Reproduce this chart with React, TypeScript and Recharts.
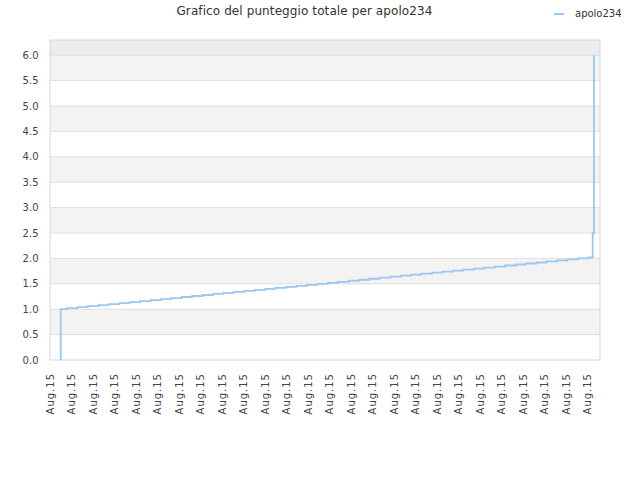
import React from 'react';
import { LineChart, Line, XAxis, YAxis, ReferenceArea, ReferenceLine } from 'recharts';

// ------------------------------------------------------------
// Punteggio totale per apolo234 — step line over time
// ------------------------------------------------------------
const title = 'Grafico del punteggio totale per apolo234';
const seriesName = 'apolo234';

// x position in tick units (one unit = one "Aug.15" tick)
const times = [
    0.5, 0.5, 0.79, 1.28, 1.76, 2.25, 2.73, 3.22, 3.7, 4.19, 4.67, 5.16, 5.64, 6.13, 6.61, 7.1, 7.58, 8.07, 8.55,
    9.04, 9.52, 10.01, 10.49, 10.98, 11.46, 11.95, 12.43, 12.92, 13.4, 13.89, 14.37, 14.86, 15.34, 15.83, 16.31,
    16.8, 17.28, 17.77, 18.25, 18.74, 19.22, 19.71, 20.19, 20.68, 21.16, 21.65, 22.13, 22.62, 23.1, 23.59, 24.07,
    24.56, 25.04, 25.24, 25.3,
];

const scores = [
    0, 1.0, 1.02, 1.04, 1.06, 1.08, 1.1, 1.12, 1.14, 1.16, 1.18, 1.2, 1.22, 1.24, 1.26, 1.28, 1.3, 1.32, 1.34, 1.36,
    1.38, 1.4, 1.42, 1.44, 1.46, 1.48, 1.5, 1.52, 1.54, 1.56, 1.58, 1.6, 1.62, 1.64, 1.66, 1.68, 1.7, 1.72, 1.74,
    1.76, 1.78, 1.8, 1.82, 1.84, 1.86, 1.88, 1.9, 1.92, 1.94, 1.96, 1.98, 2.0, 2.02, 2.5, 6.0,
];

const xTicks = [0, 1, 2, 3, 4, 5, 6, 7, 8, 9, 10, 11, 12, 13, 14, 15, 16, 17, 18, 19, 20, 21, 22, 23, 24, 25];
const xTickLabels = [
    'Aug.15', 'Aug.15', 'Aug.15', 'Aug.15', 'Aug.15', 'Aug.15', 'Aug.15', 'Aug.15', 'Aug.15', 'Aug.15',
    'Aug.15', 'Aug.15', 'Aug.15', 'Aug.15', 'Aug.15', 'Aug.15', 'Aug.15', 'Aug.15', 'Aug.15', 'Aug.15',
    'Aug.15', 'Aug.15', 'Aug.15', 'Aug.15', 'Aug.15', 'Aug.15',
];
const yTicks = [0, 0.5, 1, 1.5, 2, 2.5, 3, 3.5, 4, 4.5, 5, 5.5, 6];

const data = times.map((t, i) => ({ t, score: scores[i] }));

const FONT = '"DejaVu Sans", Verdana, sans-serif';
const TEXT = '#444';
const LINE = '#99c8f4';

function XTick(props: any) {
    const { x, y, index } = props;
    const ty = y + 5;
    return (
        <text
            x={x}
            y={ty}
            transform={`rotate(-90 ${x} ${ty})`}
            textAnchor="end"
            dy="0.36em"
            fontSize={10}
            letterSpacing={1}
            fill={TEXT}
            fontFamily={FONT}
        >
            {xTickLabels[index]}
        </text>
    );
}

function YTick(props: any) {
    const { y, payload } = props;
    return (
        <text x={38.5} y={y} dy="0.36em" textAnchor="end" fontSize={10} fill={TEXT} fontFamily={FONT}>
            {Number(payload.value).toFixed(1)}
        </text>
    );
}

export default function App() {
    const bands = yTicks.slice(0, -1).map((v, i) => ({ y1: v, y2: yTicks[i + 1], odd: i % 2 === 1 }));
    return (
        <div style={{ position: 'absolute', left: 0, top: 0, width: 640, height: 480, background: '#fff' }}>
            <div
                style={{
                    position: 'absolute',
                    left: 0,
                    top: 4,
                    width: 609,
                    textAlign: 'center',
                    fontFamily: FONT,
                    fontSize: 12,
                    color: '#333',
                    letterSpacing: 0.1,
                }}
            >
                {title}
            </div>
            {/* legend, top right */}
            <div
                style={{
                    position: 'absolute',
                    left: 554,
                    top: 8,
                    display: 'flex',
                    alignItems: 'center',
                    fontFamily: FONT,
                    fontSize: 10,
                    color: '#333',
                }}
            >
                <span style={{ display: 'inline-block', width: 10, height: 2, background: LINE, marginRight: 11 }} />
                <span>{seriesName}</span>
            </div>
            <LineChart width={640} height={480} data={data} margin={{ top: 40, right: 40, left: 0, bottom: 0 }}>
                {bands.map((b) => (
                    <ReferenceArea
                        key={b.y1}
                        y1={b.y1}
                        y2={b.y2}
                        fill={b.odd ? '#f3f3f3' : '#ffffff'}
                        fillOpacity={1}
                        stroke="none"
                    />
                ))}
                <ReferenceArea y1={6} y2={6.3} fill="#ececec" fillOpacity={1} stroke="none" />
                {yTicks.slice(1).map((v) => (
                    <ReferenceLine key={v} y={v} stroke="#dedede" strokeWidth={1} />
                ))}
                <ReferenceArea y1={0} y2={6.3} fill="none" stroke="#d6d6d6" strokeWidth={1} />
                <XAxis
                    type="number"
                    dataKey="t"
                    domain={[0, 25.58]}
                    ticks={xTicks}
                    interval={0}
                    axisLine={false}
                    tickLine={false}
                    height={120}
                    tick={<XTick />}
                />
                <YAxis
                    type="number"
                    domain={[0, 6.3]}
                    ticks={yTicks}
                    interval={0}
                    axisLine={false}
                    tickLine={false}
                    width={50}
                    tick={<YTick />}
                />
                <Line
                    type="stepAfter"
                    dataKey="score"
                    name={seriesName}
                    stroke={LINE}
                    strokeWidth={1.8}
                    dot={false}
                    activeDot={false}
                    isAnimationActive={false}
                />
            </LineChart>
        </div>
    );
}
